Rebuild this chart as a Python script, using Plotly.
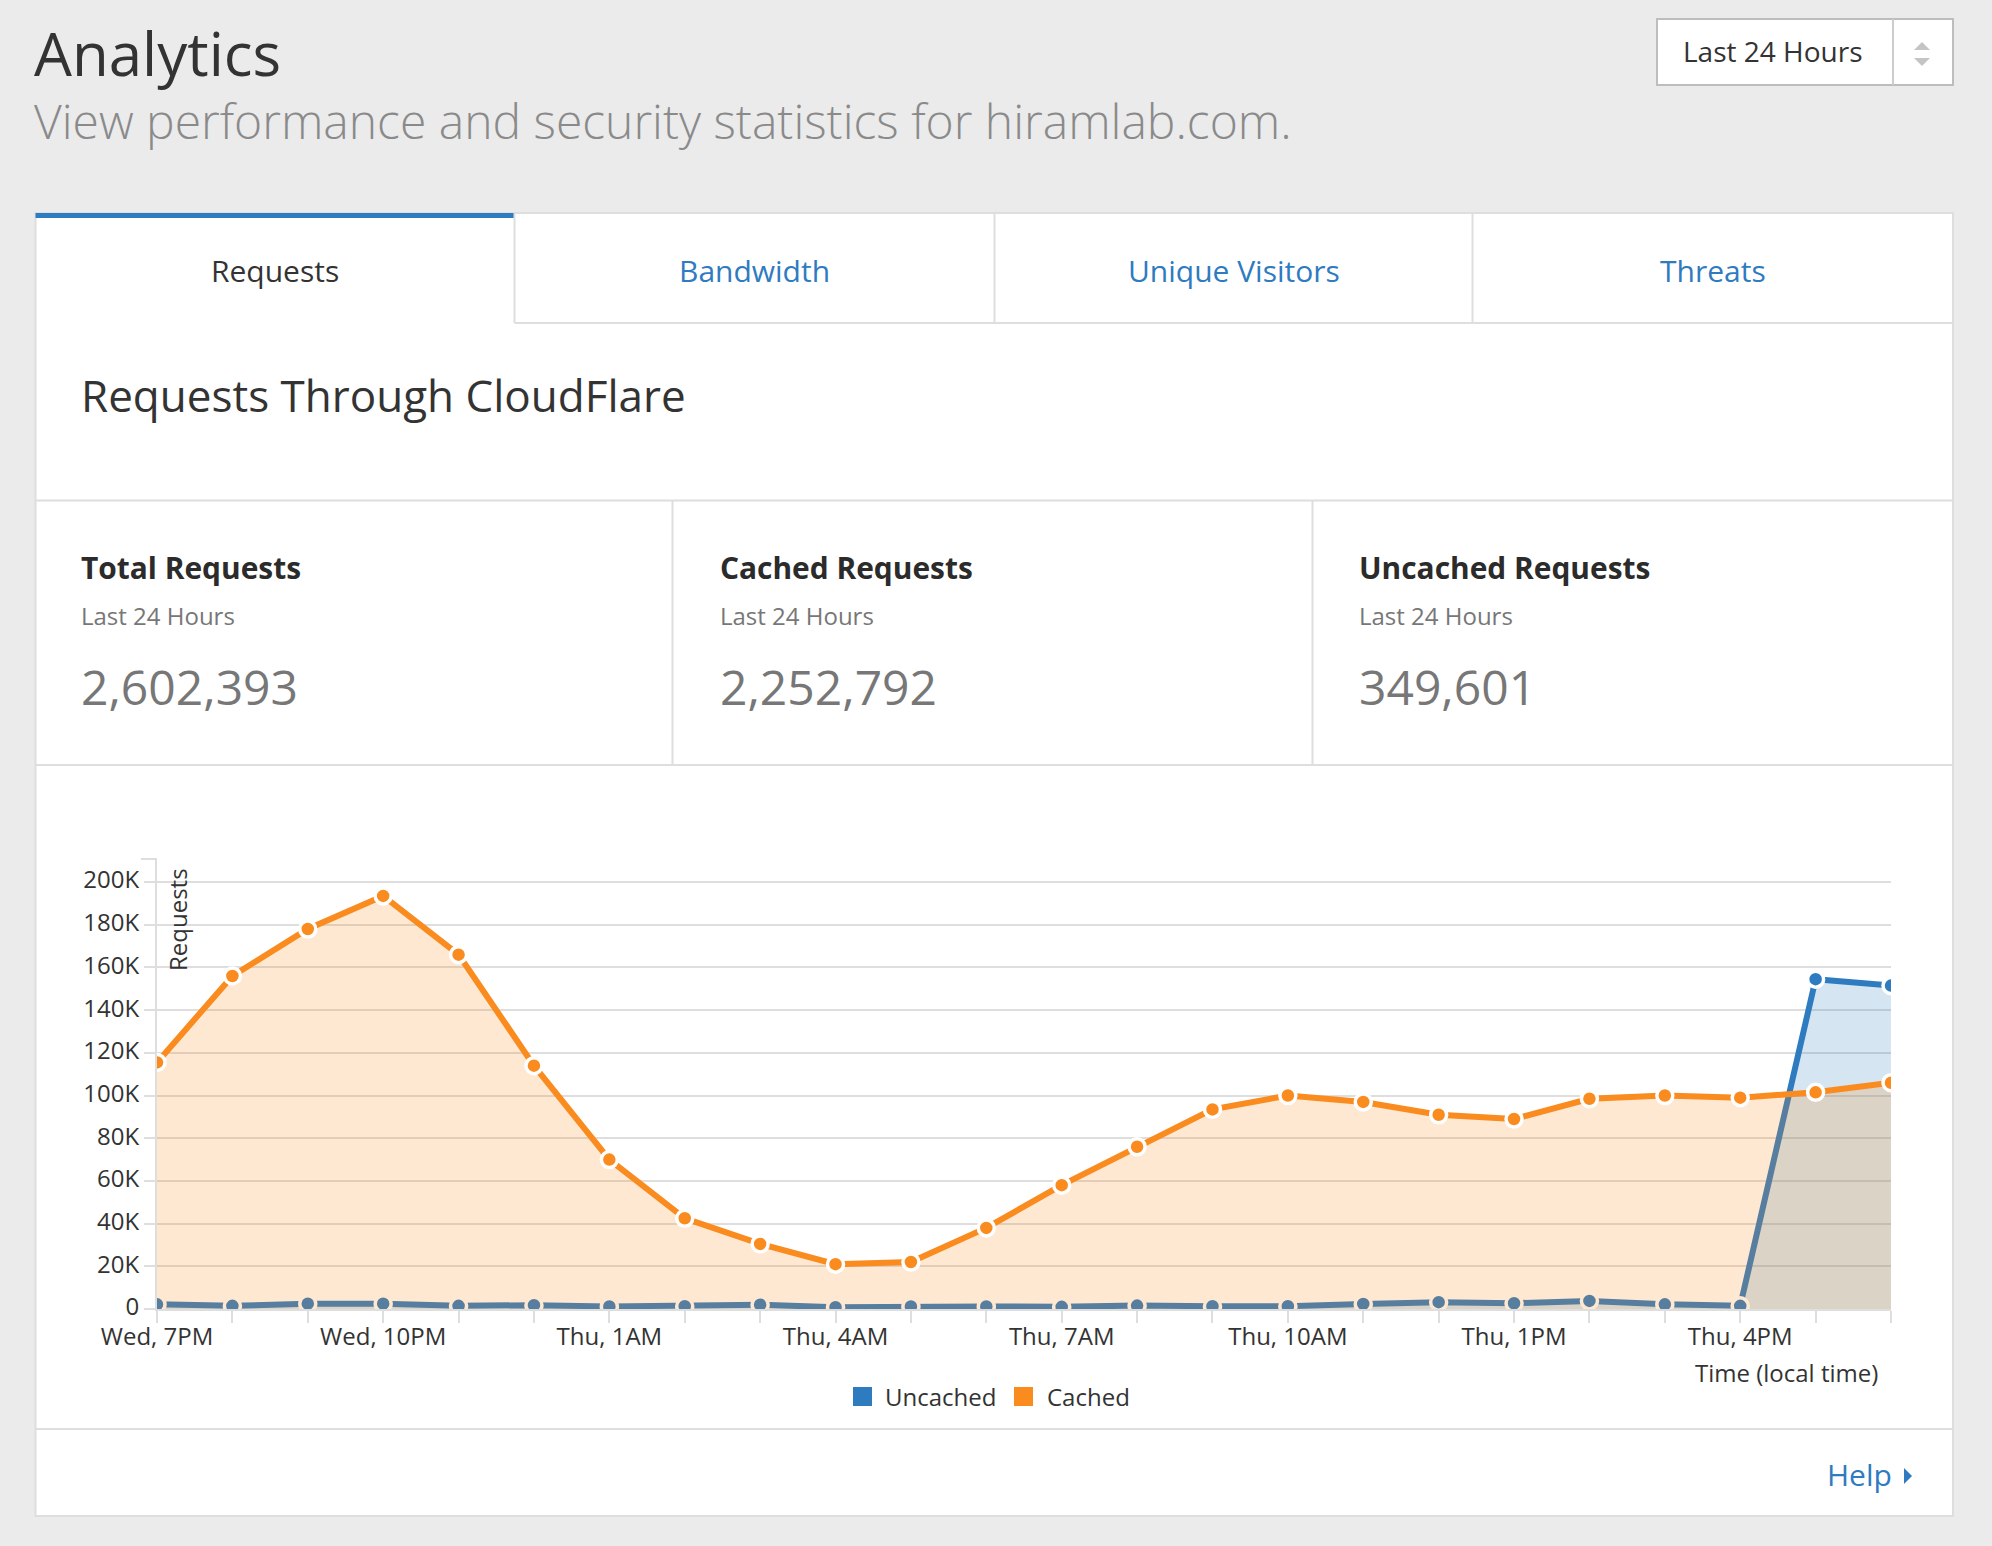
# Analytics dashboard: requests through CloudFlare, last 24 hours
import plotly.graph_objects as go

W, H = 1992, 1546

# Chart data, in thousands of requests per hour
hours = ["Wed, 7PM", "Wed, 8PM", "Wed, 9PM", "Wed, 10PM", "Wed, 11PM", "Thu, 12AM",
         "Thu, 1AM", "Thu, 2AM", "Thu, 3AM", "Thu, 4AM", "Thu, 5AM", "Thu, 6AM",
         "Thu, 7AM", "Thu, 8AM", "Thu, 9AM", "Thu, 10AM", "Thu, 11AM", "Thu, 12PM",
         "Thu, 1PM", "Thu, 2PM", "Thu, 3PM", "Thu, 4PM", "Thu, 5PM", "Thu, 6PM"]
cached = [115.5, 156, 178, 193.5, 166, 114, 70, 42.5, 30.5, 21, 22, 38,
          58, 76, 93.5, 100, 97, 91, 89, 98.5, 100, 99, 101.5, 106]
uncached = [2.2, 1.5, 2.5, 2.5, 1.5, 1.8, 1.2, 1.3, 2.0, 0.8, 1.2, 1.2,
            1.0, 1.6, 1.3, 1.3, 2.4, 3.2, 2.7, 3.8, 2.2, 1.5, 154.5, 151.5]
y_ticks = [0, 20, 40, 60, 80, 100, 120, 140, 160, 180, 200]
y_labels = ["0", "20K", "40K", "60K", "80K", "100K", "120K", "140K", "160K", "180K", "200K"]
x_labels = [h if i % 3 == 0 else "" for i, h in enumerate(hours)]

# Page text
tabs = ["Requests", "Bandwidth", "Unique Visitors", "Threats"]
stat_titles = ["Total Requests", "Cached Requests", "Uncached Requests"]
stat_values = ["2,602,393", "2,252,792", "349,601"]

BLUE = "#2f7bbf"
ORANGE = "#f98b1f"
LINE = "#dedede"
DARK = "#333333"
GREY = "#777777"
FONT = "Open Sans"


def px(x):
    return x / W


def py(y):
    return 1 - y / H


shapes = []
annotations = []


def rect(x0, y0, x1, y1, fill, line=None, width=2):
    shapes.append(dict(type="rect", xref="paper", yref="paper", layer="below",
                       x0=px(x0), y0=py(y0), x1=px(x1), y1=py(y1), fillcolor=fill,
                       line=dict(color=line, width=width) if line else dict(width=0)))


def seg(x0, y0, x1, y1, color=LINE, width=2):
    shapes.append(dict(type="line", xref="paper", yref="paper", layer="below",
                       x0=px(x0), y0=py(y0), x1=px(x1), y1=py(y1),
                       line=dict(color=color, width=width)))


def tri(points, color):
    d = "M " + " L ".join(f"{px(a):.5f},{py(b):.5f}" for a, b in points) + " Z"
    shapes.append(dict(type="path", xref="paper", yref="paper", path=d,
                       fillcolor=color, line=dict(width=0)))


def label(x, y, text, size, color=DARK, anchor="left", weight=None, angle=0):
    annotations.append(dict(xref="paper", yref="paper", x=px(x), y=py(y), text=text,
                            showarrow=False, xanchor=anchor, yanchor="middle", textangle=angle,
                            borderpad=0, font=dict(family=FONT, size=size, color=color, weight=weight)))


# Header
label(33, 53, "Analytics", 60, "#333333", weight=400)
label(33, 120, "View performance and security statistics for hiramlab.com.", 48, "#8a8a8a", weight=300)
rect(1657, 19, 1953, 85, "white", "#bdbdbd")
seg(1893, 19, 1893, 85, "#cccccc")
label(1682, 51, "Last 24 Hours", 28)
tri([(1922, 42), (1914, 50), (1930, 50)], "#c4c4c4")
tri([(1922, 66), (1914, 58), (1930, 58)], "#c4c4c4")

# Panel, tabs and dividers
rect(35.5, 213, 1953, 1516, "white", LINE)
rect(35.5, 213, 514.5, 218, BLUE)
seg(514.5, 213, 514.5, 323)
seg(994.5, 213, 994.5, 323)
seg(1472.5, 213, 1472.5, 323)
seg(514.5, 323, 1953, 323)
seg(35.5, 500.5, 1953, 500.5)
seg(672.5, 500.5, 672.5, 765)
seg(1312.5, 500.5, 1312.5, 765)
seg(35.5, 765, 1953, 765)
seg(35.5, 1429, 1953, 1429)
for name, cx in zip(tabs, [274.5, 754.5, 1233.5, 1712.5]):
    label(cx, 270, name, 30, DARK if name == "Requests" else BLUE, anchor="center")

label(80, 395, "Requests Through CloudFlare", 44)
for title, value, sx in zip(stat_titles, stat_values, [80, 719, 1358]):
    label(sx, 567, title, 29.9, "#2b2b2b", weight=700)
    label(sx, 615, "Last 24 Hours", 24, GREY)
    label(sx, 686, value, 48, GREY)

# Chart extras
seg(141, 859, 157, 859)
label(177, 920, "Requests", 24, angle=-90, anchor="center")
label(1879, 1372, "Time (local time)", 24, anchor="right")
rect(853, 1387, 872, 1406, BLUE)
label(884, 1396, "Uncached", 24)
rect(1014, 1387, 1033, 1406, ORANGE)
label(1046, 1396, "Cached", 24)

# Footer
label(1826, 1474, "Help", 30, BLUE)
tri([(1904, 1468), (1912, 1476), (1904, 1484)], BLUE)

fig = go.Figure()
fig.add_trace(go.Scatter(x=hours, y=uncached, mode="lines+markers", name="Uncached",
                         fill="tozeroy", fillcolor="rgba(47,123,191,0.2)",
                         line=dict(color=BLUE, width=6),
                         marker=dict(color=BLUE, size=16, line=dict(color="white", width=3.5))))
fig.add_trace(go.Scatter(x=hours, y=cached, mode="lines+markers", name="Cached",
                         fill="tozeroy", fillcolor="rgba(249,139,31,0.2)",
                         line=dict(color=ORANGE, width=6),
                         marker=dict(color=ORANGE, size=16, line=dict(color="white", width=3.5))))

fig.update_layout(
    width=W, height=H, margin=dict(l=0, r=0, t=0, b=0),
    paper_bgcolor="#ebebeb", plot_bgcolor="rgba(0,0,0,0)",
    showlegend=False, shapes=shapes, annotations=annotations,
    font=dict(family=FONT, size=24, color=DARK),
)
fig.update_xaxes(domain=[px(157), px(1891)], type="category", range=[0, 23], automargin=False,
                 tickmode="array", tickvals=hours, ticktext=x_labels, tickangle=0,
                 ticks="outside", ticklen=12, tickwidth=2, tickcolor=LINE, ticklabelstandoff=-7,
                 showgrid=False, showline=True, linecolor=LINE, linewidth=2,
                 tickfont=dict(size=24, color=DARK))
fig.update_yaxes(domain=[py(1309), py(859)], range=[0, 210.8], automargin=False,
                 tickmode="array", tickvals=y_ticks, ticktext=y_labels,
                 ticks="outside", ticklen=11, tickwidth=2, tickcolor=LINE, ticklabelshift=-2,
                 showgrid=True, gridcolor=LINE, gridwidth=2, zeroline=False,
                 showline=True, linecolor=LINE, linewidth=2,
                 tickfont=dict(size=24, color=DARK))

fig.write_html("out.html", config=dict(displayModeBar=False),
               post_script="document.body.style.margin='0';document.body.style.overflow='hidden';")
